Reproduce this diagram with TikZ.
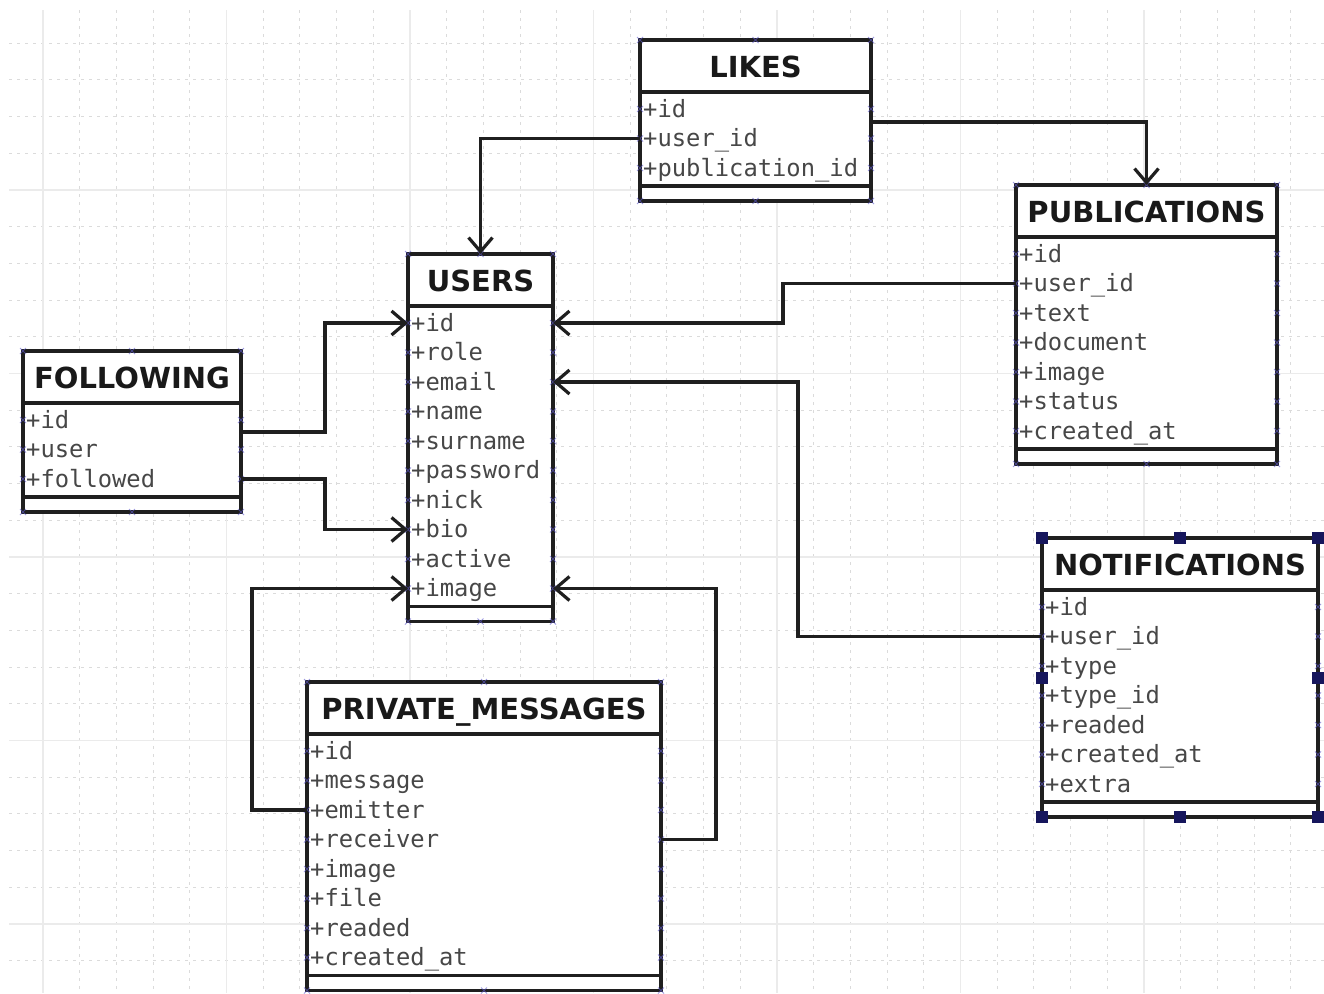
\documentclass[tikz,border=0pt]{standalone}
\usepackage{fontspec}
\setmainfont{DejaVu Sans}
\newfontfamily\attrfont{DejaVu Sans Mono}
\usetikzlibrary{arrows.meta}

\definecolor{edgeblue}{RGB}{95,90,205}
\definecolor{handle}{RGB}{22,22,92}

\tikzset{
  minorgrid/.style={draw=black!14, line width=0.9pt, dash pattern=on 3pt off 5pt},
  majorgrid/.style={draw=black!8, line width=1.6pt},
  tablebox/.style={draw=black!88, fill=white, line width=3.3pt, inner sep=0pt, outer sep=0pt, rectangle},
  sepline/.style={draw=black!88, line width=3.3pt},
  titletext/.style={font=\fontsize{29}{29}\selectfont\bfseries, text=black!90, inner sep=0pt, anchor=base},
  rowtext/.style={font=\attrfont\fontsize{23.8}{23.8}\selectfont, text=black!72, inner sep=0pt, anchor=base west},
  edgetick/.style={draw=edgeblue, line width=0.8pt, opacity=0.6},
  selhandle/.style={fill=handle, draw=none, minimum size=12pt, inner sep=0pt, rectangle},
  conn/.style={draw=black!88, line width=3.2pt, line join=miter},
  arr/.style={conn, -{Straight Barb[length=14pt, width=24pt]}},
}

% #1 name, #2 x, #3 y, #4 width, #5 number of rows, #6 title, #7 rows
\newcommand\dbtable[7]{%
  \pgfmathsetmacro\tabh{102+(#5-1)*29.5}%
  \node[tablebox, minimum width=#4pt, minimum height=\tabh pt, anchor=north west] (#1) at (#2,#3) {};
  \draw[sepline] (#2,#3+52) -- (#2+#4,#3+52);
  \draw[sepline] (#2,{#3+\tabh-15}) -- (#2+#4,{#3+\tabh-15});
  \node[titletext] (#1-title) at ({#2+#4/2},#3+37) {#6};
  \foreach \r [count=\i] in {#7} {
    \pgfmathsetmacro\ry{#3+69+(\i-1)*29.5}
    \coordinate (#1-p\i) at (#2,\ry);
    \node[rowtext] (#1-r\i) at (#2+3,{\ry+8}) {+\r};
    \draw[edgetick] (#2-3,{\ry-3}) -- (#2+3,{\ry+3}) (#2-3,{\ry+3}) -- (#2+3,{\ry-3});
    \draw[edgetick] (#2+#4-3,{\ry-3}) -- (#2+#4+3,{\ry+3}) (#2+#4-3,{\ry+3}) -- (#2+#4+3,{\ry-3});
  }
  \foreach \tx in {#2, #2+#4/2, #2+#4} {
    \draw[edgetick] ({\tx-3},#3-3) -- ({\tx+3},#3+3) ({\tx-3},#3+3) -- ({\tx+3},#3-3);
    \draw[edgetick] ({\tx-3},{#3+\tabh-3}) -- ({\tx+3},{#3+\tabh+3}) ({\tx-3},{#3+\tabh+3}) -- ({\tx+3},{#3+\tabh-3});
  }
}

\begin{document}
\begin{tikzpicture}[x=1pt, y=-1pt]
  \useasboundingbox (0,0) rectangle (1324,993);
  \fill[white] (0,0) rectangle (1324,993);

  % background grid
  \begin{scope}
    \clip (9,10) rectangle (1324,993);
    \foreach \k in {-1,...,35} {
      \pgfmathsetmacro\gx{43+36.7*\k}
      \draw[minorgrid] (\gx,10) -- (\gx,993);
    }
    \foreach \k in {-5,...,22} {
      \pgfmathsetmacro\gy{190+36.7*\k}
      \draw[minorgrid] (9,\gy) -- (1324,\gy);
    }
    \foreach \k in {0,...,7} {
      \pgfmathsetmacro\gx{43+183.5*\k}
      \draw[majorgrid] (\gx,10) -- (\gx,993);
    }
    \foreach \k in {-1,...,5} {
      \pgfmathsetmacro\gy{190+183.5*\k}
      \draw[majorgrid] (9,\gy) -- (1324,\gy);
    }
  \end{scope}

  % tables
  \dbtable{likes}{640}{40}{231}{3}{LIKES}{id,user\_id,publication\_id}
  \dbtable{pubs}{1016}{185}{261}{7}{PUBLICATIONS}{id,user\_id,text,document,image,status,created\_at}
  \dbtable{users}{408}{254}{145}{10}{USERS}{id,role,email,name,surname,password,nick,bio,active,image}
  \dbtable{following}{23}{351}{218}{3}{FOLLOWING}{id,user,followed}
  \dbtable{notif}{1042}{538}{276}{7}{NOTIFICATIONS}{id,user\_id,type,type\_id,readed,created\_at,extra}
  \dbtable{pm}{307}{682}{354}{8}{PRIVATE\_MESSAGES}{id,message,emitter,receiver,image,file,readed,created\_at}

  % selection handles on NOTIFICATIONS
  \foreach \hx [count=\h] in {north west, north, north east, west, east, south west, south, south east} {
    \node[selhandle] (notif-h\h) at (notif.\hx) {};
  }

  % bend points of the connectors
  \coordinate (kPub)  at (783,0);
  \coordinate (kNot)  at (798,0);
  \coordinate (kFol)  at (325,0);
  \coordinate (kEmit) at (252,0);
  \coordinate (kRecv) at (716,0);
  \coordinate (likesOut) at (871,122);
  \coordinate (folOut)   at (241,432);

  % connectors
  \draw[arr] (likes.west |- likes-p2) -| (users.north);
  \draw[arr] (likesOut) -| (pubs.north);
  \draw[arr] (pubs.west |- pubs-p2) -| (kPub |- users-p1) -- (users.east |- users-p1);
  \draw[arr] (notif.west |- notif-p2) -| (kNot |- users-p3) -- (users.east |- users-p3);
  \draw[arr] (folOut) -| (kFol |- users-p1) -- (users.west |- users-p1);
  \draw[arr] (following.east |- following-p3) -| (kFol |- users-p8) -- (users.west |- users-p8);
  \draw[arr] (pm.west |- pm-p3) -| (kEmit |- users-p10) -- (users.west |- users-p10);
  \draw[arr] (pm.east |- pm-p4) -| (kRecv |- users-p10) -- (users.east |- users-p10);
\end{tikzpicture}
\end{document}
